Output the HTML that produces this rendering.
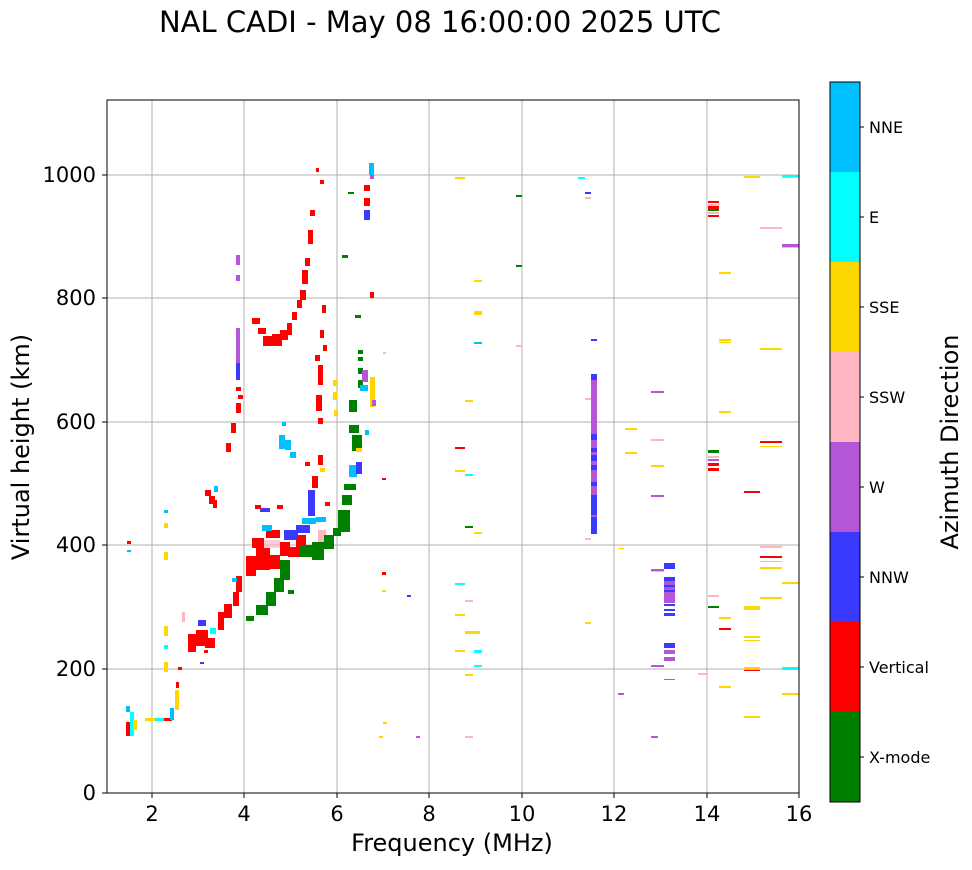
<!DOCTYPE html>
<html><head><meta charset="utf-8"><style>
body{margin:0;background:#fff;}
svg text{font-family:"DejaVu Sans","Liberation Sans",sans-serif;}
</style></head><body>
<svg width="972" height="865" viewBox="0 0 972 865" xmlns="http://www.w3.org/2000/svg">
<rect width="972" height="865" fill="#fff"/>
<text x="440" y="32" font-size="29" text-anchor="middle">NAL CADI - May 08 16:00:00 2025 UTC</text>
<g stroke="#b0b0b0" stroke-width="1">
<line x1="152" y1="100" x2="152" y2="793"/><line x1="244" y1="100" x2="244" y2="793"/>
<line x1="337" y1="100" x2="337" y2="793"/><line x1="429" y1="100" x2="429" y2="793"/>
<line x1="522" y1="100" x2="522" y2="793"/><line x1="614" y1="100" x2="614" y2="793"/>
<line x1="707" y1="100" x2="707" y2="793"/>
<line x1="107" y1="669" x2="799" y2="669"/><line x1="107" y1="545" x2="799" y2="545"/>
<line x1="107" y1="422" x2="799" y2="422"/><line x1="107" y1="298" x2="799" y2="298"/>
<line x1="107" y1="175" x2="799" y2="175"/>
</g>
<g>
<rect x="126" y="722" width="5" height="14" fill="red"/><rect x="130" y="712" width="4" height="24" fill="cyan"/><rect x="126" y="706" width="4" height="6" fill="#00bfff"/><rect x="133" y="720" width="4" height="10" fill="gold"/>
<rect x="145" y="718" width="10" height="3" fill="gold"/><rect x="155" y="718" width="10" height="3" fill="cyan"/><rect x="164" y="718" width="8" height="3" fill="red"/>
<rect x="170" y="708" width="4" height="12" fill="#00bfff"/><rect x="175" y="690" width="4" height="20" fill="gold"/><rect x="176" y="682" width="3" height="6" fill="red"/>
<rect x="164" y="626" width="4" height="10" fill="gold"/><rect x="164" y="662" width="4" height="10" fill="gold"/><rect x="164" y="645" width="4" height="4" fill="cyan"/>
<rect x="164" y="510" width="4" height="3" fill="#00bfff"/><rect x="164" y="523" width="4" height="5" fill="gold"/><rect x="164" y="552" width="4" height="8" fill="gold"/>
<rect x="127" y="541" width="4" height="3" fill="red"/><rect x="127" y="550" width="4" height="2" fill="#00bfff"/>
<rect x="178" y="667" width="4" height="3" fill="red"/>
<rect x="188" y="634" width="8" height="18" fill="red"/><rect x="196" y="630" width="12" height="16" fill="red"/><rect x="205" y="638" width="10" height="10" fill="red"/>
<rect x="198" y="620" width="8" height="6" fill="#3a3aff"/><rect x="210" y="628" width="6" height="6" fill="cyan"/><rect x="204" y="650" width="4" height="3" fill="red"/>
<rect x="182" y="612" width="3" height="10" fill="#ffb6c1"/><rect x="200" y="662" width="4" height="2" fill="#3a3aff"/>
<rect x="218" y="612" width="6" height="18" fill="red"/><rect x="224" y="604" width="8" height="14" fill="red"/><rect x="233" y="592" width="6" height="14" fill="red"/>
<rect x="236" y="576" width="6" height="16" fill="red"/><rect x="232" y="578" width="5" height="4" fill="#00bfff"/>
<rect x="205" y="490" width="6" height="6" fill="red"/><rect x="209" y="496" width="6" height="8" fill="red"/><rect x="214" y="486" width="4" height="6" fill="#00bfff"/><rect x="213" y="500" width="4" height="8" fill="red"/>
<rect x="246" y="556" width="10" height="20" fill="red"/><rect x="256" y="548" width="14" height="22" fill="red"/><rect x="270" y="555" width="10" height="14" fill="red"/>
<rect x="252" y="538" width="12" height="10" fill="red"/><rect x="264" y="540" width="16" height="8" fill="#ffb6c1" opacity="0.7"/><rect x="266" y="530" width="14" height="8" fill="red"/>
<rect x="280" y="542" width="10" height="14" fill="red"/><rect x="288" y="547" width="12" height="10" fill="red"/><rect x="296" y="535" width="10" height="12" fill="red"/>
<rect x="262" y="525" width="10" height="6" fill="#00bfff"/><rect x="284" y="530" width="14" height="10" fill="#3a3aff"/><rect x="296" y="525" width="14" height="8" fill="#3a3aff"/>
<rect x="302" y="518" width="14" height="6" fill="#00bfff"/><rect x="308" y="490" width="7" height="26" fill="#3a3aff"/><rect x="312" y="476" width="6" height="12" fill="red"/>
<rect x="260" y="508" width="10" height="4" fill="#3a3aff"/><rect x="255" y="505" width="6" height="4" fill="red"/><rect x="277" y="505" width="6" height="4" fill="red"/>
<rect x="318" y="530" width="8" height="12" fill="#ffb6c1"/><rect x="316" y="517" width="10" height="5" fill="#00bfff"/><rect x="325" y="502" width="5" height="4" fill="red"/>
<rect x="305" y="462" width="5" height="4" fill="red"/><rect x="318" y="455" width="5" height="10" fill="red"/><rect x="320" y="468" width="5" height="4" fill="gold"/>
<rect x="280" y="560" width="10" height="20" fill="green"/><rect x="274" y="578" width="10" height="14" fill="green"/><rect x="266" y="592" width="10" height="14" fill="green"/>
<rect x="256" y="605" width="12" height="10" fill="green"/><rect x="246" y="616" width="8" height="5" fill="green"/><rect x="288" y="590" width="6" height="4" fill="green"/>
<rect x="300" y="545" width="14" height="12" fill="green"/><rect x="312" y="542" width="12" height="18" fill="green"/><rect x="324" y="535" width="10" height="14" fill="green"/>
<rect x="338" y="510" width="12" height="22" fill="green"/><rect x="342" y="495" width="10" height="10" fill="green"/><rect x="344" y="484" width="12" height="6" fill="green"/><rect x="333" y="528" width="8" height="8" fill="green"/>
<rect x="349" y="400" width="8" height="12" fill="green"/><rect x="349" y="425" width="10" height="8" fill="green"/><rect x="352" y="435" width="10" height="16" fill="green"/>
<rect x="349" y="465" width="8" height="12" fill="#00bfff"/><rect x="356" y="462" width="6" height="12" fill="#3a3aff"/><rect x="356" y="448" width="6" height="4" fill="gold"/>
<rect x="358" y="350" width="5" height="4" fill="green"/><rect x="358" y="357" width="5" height="4" fill="green"/><rect x="358" y="368" width="5" height="6" fill="green"/><rect x="358" y="380" width="5" height="8" fill="green"/>
<rect x="362" y="370" width="6" height="12" fill="#b556d8"/><rect x="360" y="385" width="8" height="6" fill="#00bfff"/><rect x="365" y="430" width="4" height="5" fill="#00bfff"/>
<rect x="355" y="315" width="6" height="3" fill="green"/><rect x="348" y="192" width="6" height="2" fill="green"/><rect x="342" y="255" width="6" height="3" fill="green"/>
<rect x="279" y="435" width="6" height="14" fill="#00bfff"/><rect x="285" y="440" width="6" height="10" fill="#00bfff"/><rect x="290" y="452" width="6" height="6" fill="#00bfff"/><rect x="282" y="422" width="4" height="4" fill="#00bfff"/>
<rect x="226" y="443" width="5" height="9" fill="red"/><rect x="231" y="423" width="5" height="10" fill="red"/>
<rect x="236" y="387" width="5" height="4" fill="red"/><rect x="238" y="395" width="5" height="4" fill="red"/><rect x="236" y="403" width="5" height="10" fill="red"/>
<rect x="236" y="328" width="4" height="35" fill="#b556d8"/><rect x="236" y="363" width="4" height="17" fill="#3a3aff"/>
<rect x="236" y="255" width="4" height="10" fill="#b556d8"/><rect x="236" y="275" width="4" height="6" fill="#b556d8"/>
<rect x="252" y="318" width="8" height="6" fill="red"/><rect x="258" y="328" width="8" height="6" fill="red"/><rect x="263" y="336" width="10" height="10" fill="red"/>
<rect x="272" y="334" width="10" height="12" fill="red"/><rect x="280" y="330" width="8" height="10" fill="red"/><rect x="287" y="323" width="5" height="12" fill="red"/>
<rect x="292" y="312" width="5" height="8" fill="red"/><rect x="297" y="300" width="5" height="8" fill="red"/><rect x="300" y="290" width="6" height="10" fill="red"/>
<rect x="302" y="270" width="6" height="14" fill="red"/><rect x="305" y="258" width="5" height="8" fill="red"/><rect x="308" y="230" width="5" height="14" fill="red"/>
<rect x="310" y="210" width="5" height="6" fill="red"/><rect x="316" y="168" width="3" height="4" fill="red"/><rect x="320" y="180" width="4" height="4" fill="red"/>
<rect x="315" y="355" width="5" height="6" fill="red"/><rect x="318" y="365" width="5" height="20" fill="red"/><rect x="316" y="395" width="6" height="16" fill="red"/><rect x="318" y="418" width="5" height="6" fill="red"/>
<rect x="320" y="330" width="4" height="8" fill="red"/><rect x="322" y="305" width="4" height="8" fill="red"/><rect x="323" y="345" width="4" height="6" fill="red"/>
<rect x="333" y="380" width="4" height="6" fill="gold"/><rect x="333" y="392" width="4" height="8" fill="gold"/><rect x="334" y="410" width="4" height="6" fill="gold"/>
<rect x="364" y="185" width="6" height="6" fill="red"/><rect x="364" y="198" width="6" height="8" fill="red"/><rect x="364" y="210" width="6" height="10" fill="#3a3aff"/>
<rect x="369" y="163" width="5" height="12" fill="#00bfff"/><rect x="370" y="175" width="4" height="4" fill="#b556d8"/><rect x="370" y="292" width="4" height="6" fill="red"/>
<rect x="370" y="377" width="5" height="30" fill="gold"/><rect x="372" y="400" width="4" height="6" fill="#b556d8"/><rect x="383" y="352" width="3" height="2" fill="#ffb6c1"/>
<rect x="382" y="478" width="4" height="2" fill="red"/><rect x="382" y="572" width="4" height="3" fill="red"/><rect x="382" y="590" width="4" height="2" fill="gold"/>
<rect x="407" y="595" width="4" height="2" fill="#3a3aff"/><rect x="416" y="736" width="4" height="2" fill="#b556d8"/><rect x="379" y="736" width="4" height="2" fill="gold"/><rect x="383" y="722" width="4" height="2" fill="gold"/>
<rect x="455" y="177" width="10" height="2" fill="gold"/><rect x="474" y="311" width="8" height="4" fill="gold"/><rect x="474" y="280" width="8" height="2" fill="gold"/>
<rect x="455" y="447" width="10" height="2" fill="red"/><rect x="455" y="470" width="10" height="2" fill="gold"/><rect x="465" y="474" width="8" height="2" fill="cyan"/>
<rect x="465" y="400" width="8" height="2" fill="gold"/><rect x="474" y="342" width="8" height="2" fill="#00bfff"/><rect x="474" y="532" width="8" height="2" fill="gold"/>
<rect x="465" y="526" width="8" height="2" fill="green"/><rect x="455" y="583" width="10" height="2" fill="cyan"/><rect x="465" y="631" width="15" height="3" fill="gold"/>
<rect x="455" y="614" width="10" height="2" fill="gold"/><rect x="455" y="650" width="10" height="2" fill="gold"/><rect x="474" y="650" width="8" height="3" fill="cyan"/><rect x="474" y="665" width="8" height="2" fill="cyan"/>
<rect x="465" y="674" width="8" height="2" fill="gold"/><rect x="465" y="736" width="8" height="2" fill="#ffb6c1"/><rect x="465" y="600" width="8" height="2" fill="#ffb6c1"/>
<rect x="516" y="195" width="6" height="2" fill="green"/><rect x="516" y="265" width="6" height="2" fill="green"/><rect x="516" y="345" width="6" height="2" fill="#ffb6c1"/>
<rect x="578" y="177" width="7" height="2" fill="cyan"/><rect x="585" y="192" width="6" height="2" fill="#3a3aff"/><rect x="585" y="197" width="6" height="2" fill="#ffb6c1"/>
<rect x="591" y="339" width="6" height="2" fill="#3a3aff"/><rect x="585" y="398" width="6" height="2" fill="#ffb6c1"/><rect x="585" y="538" width="6" height="2" fill="#ffb6c1"/><rect x="585" y="622" width="6" height="2" fill="gold"/>
<rect x="591" y="374" width="6" height="160" fill="#b556d8"/><rect x="591" y="374" width="6" height="6" fill="#3a3aff"/><rect x="591" y="434" width="6" height="6" fill="#3a3aff"/>
<rect x="591" y="448" width="6" height="4" fill="#3a3aff"/><rect x="591" y="455" width="6" height="6" fill="#3a3aff"/><rect x="591" y="465" width="6" height="5" fill="#3a3aff"/><rect x="591" y="482" width="6" height="4" fill="#3a3aff"/>
<rect x="591" y="495" width="6" height="20" fill="#3a3aff"/><rect x="591" y="517" width="6" height="17" fill="#3a3aff"/>
<rect x="625" y="428" width="12" height="2" fill="gold"/><rect x="625" y="452" width="12" height="2" fill="gold"/><rect x="618" y="548" width="6" height="1" fill="gold"/><rect x="618" y="693" width="6" height="2" fill="#b556d8"/>
<rect x="651" y="391" width="13" height="2" fill="#b556d8"/><rect x="651" y="439" width="13" height="2" fill="#ffb6c1"/><rect x="651" y="465" width="13" height="2" fill="gold"/><rect x="651" y="495" width="13" height="2" fill="#b556d8"/>
<rect x="651" y="569" width="13" height="2" fill="#b556d8"/><rect x="651" y="571" width="13" height="1" fill="gold"/><rect x="651" y="665" width="13" height="2" fill="#b556d8"/><rect x="651" y="736" width="7" height="2" fill="#b556d8"/>
<rect x="664" y="563" width="11" height="6" fill="#3a3aff"/><rect x="664" y="577" width="11" height="4" fill="#3a3aff"/><rect x="664" y="581" width="11" height="22" fill="#b556d8"/>
<rect x="664" y="585" width="11" height="2" fill="#3a3aff"/><rect x="664" y="590" width="11" height="2" fill="#3a3aff"/><rect x="664" y="604" width="11" height="2" fill="#3a3aff"/><rect x="664" y="609" width="11" height="2" fill="#3a3aff"/><rect x="664" y="613" width="11" height="3" fill="#3a3aff"/>
<rect x="664" y="643" width="11" height="5" fill="#3a3aff"/><rect x="664" y="650" width="11" height="4" fill="#b556d8"/><rect x="664" y="657" width="11" height="4" fill="#b556d8"/><rect x="664" y="679" width="11" height="1" fill="#b556d8"/>
<rect x="698" y="673" width="10" height="2" fill="#ffb6c1"/>
<rect x="708" y="201" width="11" height="2" fill="red"/><rect x="708" y="204" width="11" height="3" fill="#ffb6c1"/><rect x="708" y="206" width="11" height="3" fill="red"/><rect x="708" y="209" width="11" height="2" fill="green"/><rect x="708" y="212" width="11" height="2" fill="#ffb6c1"/><rect x="708" y="215" width="11" height="2" fill="red"/>
<rect x="708" y="450" width="11" height="3" fill="green"/><rect x="708" y="456" width="11" height="2" fill="#ffb6c1"/><rect x="708" y="459" width="11" height="2" fill="#b556d8"/><rect x="708" y="463" width="11" height="3" fill="red"/><rect x="708" y="468" width="11" height="3" fill="red"/>
<rect x="708" y="595" width="11" height="2" fill="#ffb6c1"/><rect x="708" y="606" width="11" height="2" fill="green"/>
<rect x="719" y="272" width="12" height="2" fill="gold"/><rect x="719" y="339" width="12" height="2" fill="gold"/><rect x="719" y="342" width="12" height="1" fill="gold"/><rect x="719" y="411" width="12" height="2" fill="gold"/>
<rect x="719" y="617" width="12" height="2" fill="gold"/><rect x="719" y="628" width="12" height="2" fill="red"/><rect x="719" y="686" width="12" height="2" fill="gold"/>
<rect x="744" y="176" width="16" height="2" fill="gold"/><rect x="744" y="491" width="16" height="2" fill="red"/><rect x="744" y="606" width="16" height="4" fill="gold"/>
<rect x="744" y="636" width="16" height="2" fill="gold"/><rect x="744" y="640" width="16" height="1" fill="gold"/><rect x="744" y="667" width="16" height="3" fill="gold"/><rect x="744" y="670" width="16" height="1" fill="red"/><rect x="744" y="716" width="16" height="2" fill="gold"/>
<rect x="760" y="227" width="22" height="2" fill="#ffb6c1"/><rect x="760" y="348" width="22" height="2" fill="gold"/><rect x="760" y="441" width="22" height="2" fill="red"/><rect x="760" y="446" width="22" height="1" fill="gold"/>
<rect x="760" y="546" width="22" height="2" fill="#ffb6c1"/><rect x="760" y="556" width="22" height="2" fill="red"/><rect x="760" y="561" width="22" height="1" fill="gold"/><rect x="760" y="567" width="22" height="2" fill="gold"/><rect x="760" y="597" width="22" height="2" fill="gold"/>
<rect x="782" y="175" width="17" height="2" fill="cyan"/><rect x="782" y="177" width="17" height="1" fill="gold"/><rect x="782" y="244" width="17" height="3" fill="#b556d8"/><rect x="782" y="247" width="17" height="1" fill="gold"/>
<rect x="782" y="582" width="17" height="2" fill="gold"/><rect x="782" y="667" width="17" height="3" fill="cyan"/><rect x="782" y="693" width="17" height="2" fill="gold"/>
</g>
<rect x="107" y="100" width="692" height="693" fill="none" stroke="#000" stroke-width="1"/>
<g stroke="#000"><line x1="152" y1="793" x2="152" y2="798"/><line x1="244" y1="793" x2="244" y2="798"/><line x1="337" y1="793" x2="337" y2="798"/><line x1="429" y1="793" x2="429" y2="798"/><line x1="522" y1="793" x2="522" y2="798"/><line x1="614" y1="793" x2="614" y2="798"/><line x1="707" y1="793" x2="707" y2="798"/><line x1="799" y1="793" x2="799" y2="798"/>
<line x1="102" y1="793" x2="107" y2="793"/><line x1="102" y1="669" x2="107" y2="669"/><line x1="102" y1="545" x2="107" y2="545"/><line x1="102" y1="422" x2="107" y2="422"/><line x1="102" y1="298" x2="107" y2="298"/><line x1="102" y1="175" x2="107" y2="175"/></g>
<g font-size="21" text-anchor="middle">
<text x="152" y="821">2</text><text x="244" y="821">4</text><text x="337" y="821">6</text><text x="429" y="821">8</text><text x="522" y="821">10</text><text x="614" y="821">12</text><text x="707" y="821">14</text><text x="799" y="821">16</text>
</g>
<g font-size="21" text-anchor="end">
<text x="96" y="800">0</text><text x="96" y="676">200</text><text x="96" y="552">400</text><text x="96" y="429">600</text><text x="96" y="305">800</text><text x="96" y="182">1000</text>
</g>
<text x="452" y="851" font-size="24" text-anchor="middle">Frequency (MHz)</text>
<text x="29" y="447" font-size="24" text-anchor="middle" transform="rotate(-90 29 447)">Virtual height (km)</text>
<rect x="830" y="82" width="30" height="90" fill="#00bfff"/><rect x="830" y="172" width="30" height="90" fill="cyan"/>
<rect x="830" y="262" width="30" height="90" fill="gold"/><rect x="830" y="352" width="30" height="90" fill="#ffb6c1"/>
<rect x="830" y="442" width="30" height="90" fill="#b556d8"/><rect x="830" y="532" width="30" height="90" fill="#3a3aff"/>
<rect x="830" y="622" width="30" height="90" fill="red"/><rect x="830" y="712" width="30" height="90" fill="green"/>
<rect x="830" y="82" width="30" height="720" fill="none" stroke="#000"/>
<g stroke="#000"><line x1="860" y1="127" x2="864" y2="127"/><line x1="860" y1="217" x2="864" y2="217"/><line x1="860" y1="307" x2="864" y2="307"/><line x1="860" y1="397" x2="864" y2="397"/><line x1="860" y1="487" x2="864" y2="487"/><line x1="860" y1="577" x2="864" y2="577"/><line x1="860" y1="667" x2="864" y2="667"/><line x1="860" y1="757" x2="864" y2="757"/></g>
<g font-size="16">
<text x="869" y="133">NNE</text><text x="869" y="223">E</text><text x="869" y="313">SSE</text><text x="869" y="403">SSW</text><text x="869" y="493">W</text><text x="869" y="583">NNW</text><text x="869" y="673">Vertical</text><text x="869" y="763">X-mode</text>
</g>
<text x="958" y="442" font-size="24" text-anchor="middle" transform="rotate(-90 958 442)">Azimuth Direction</text>
</svg>
</body></html>
